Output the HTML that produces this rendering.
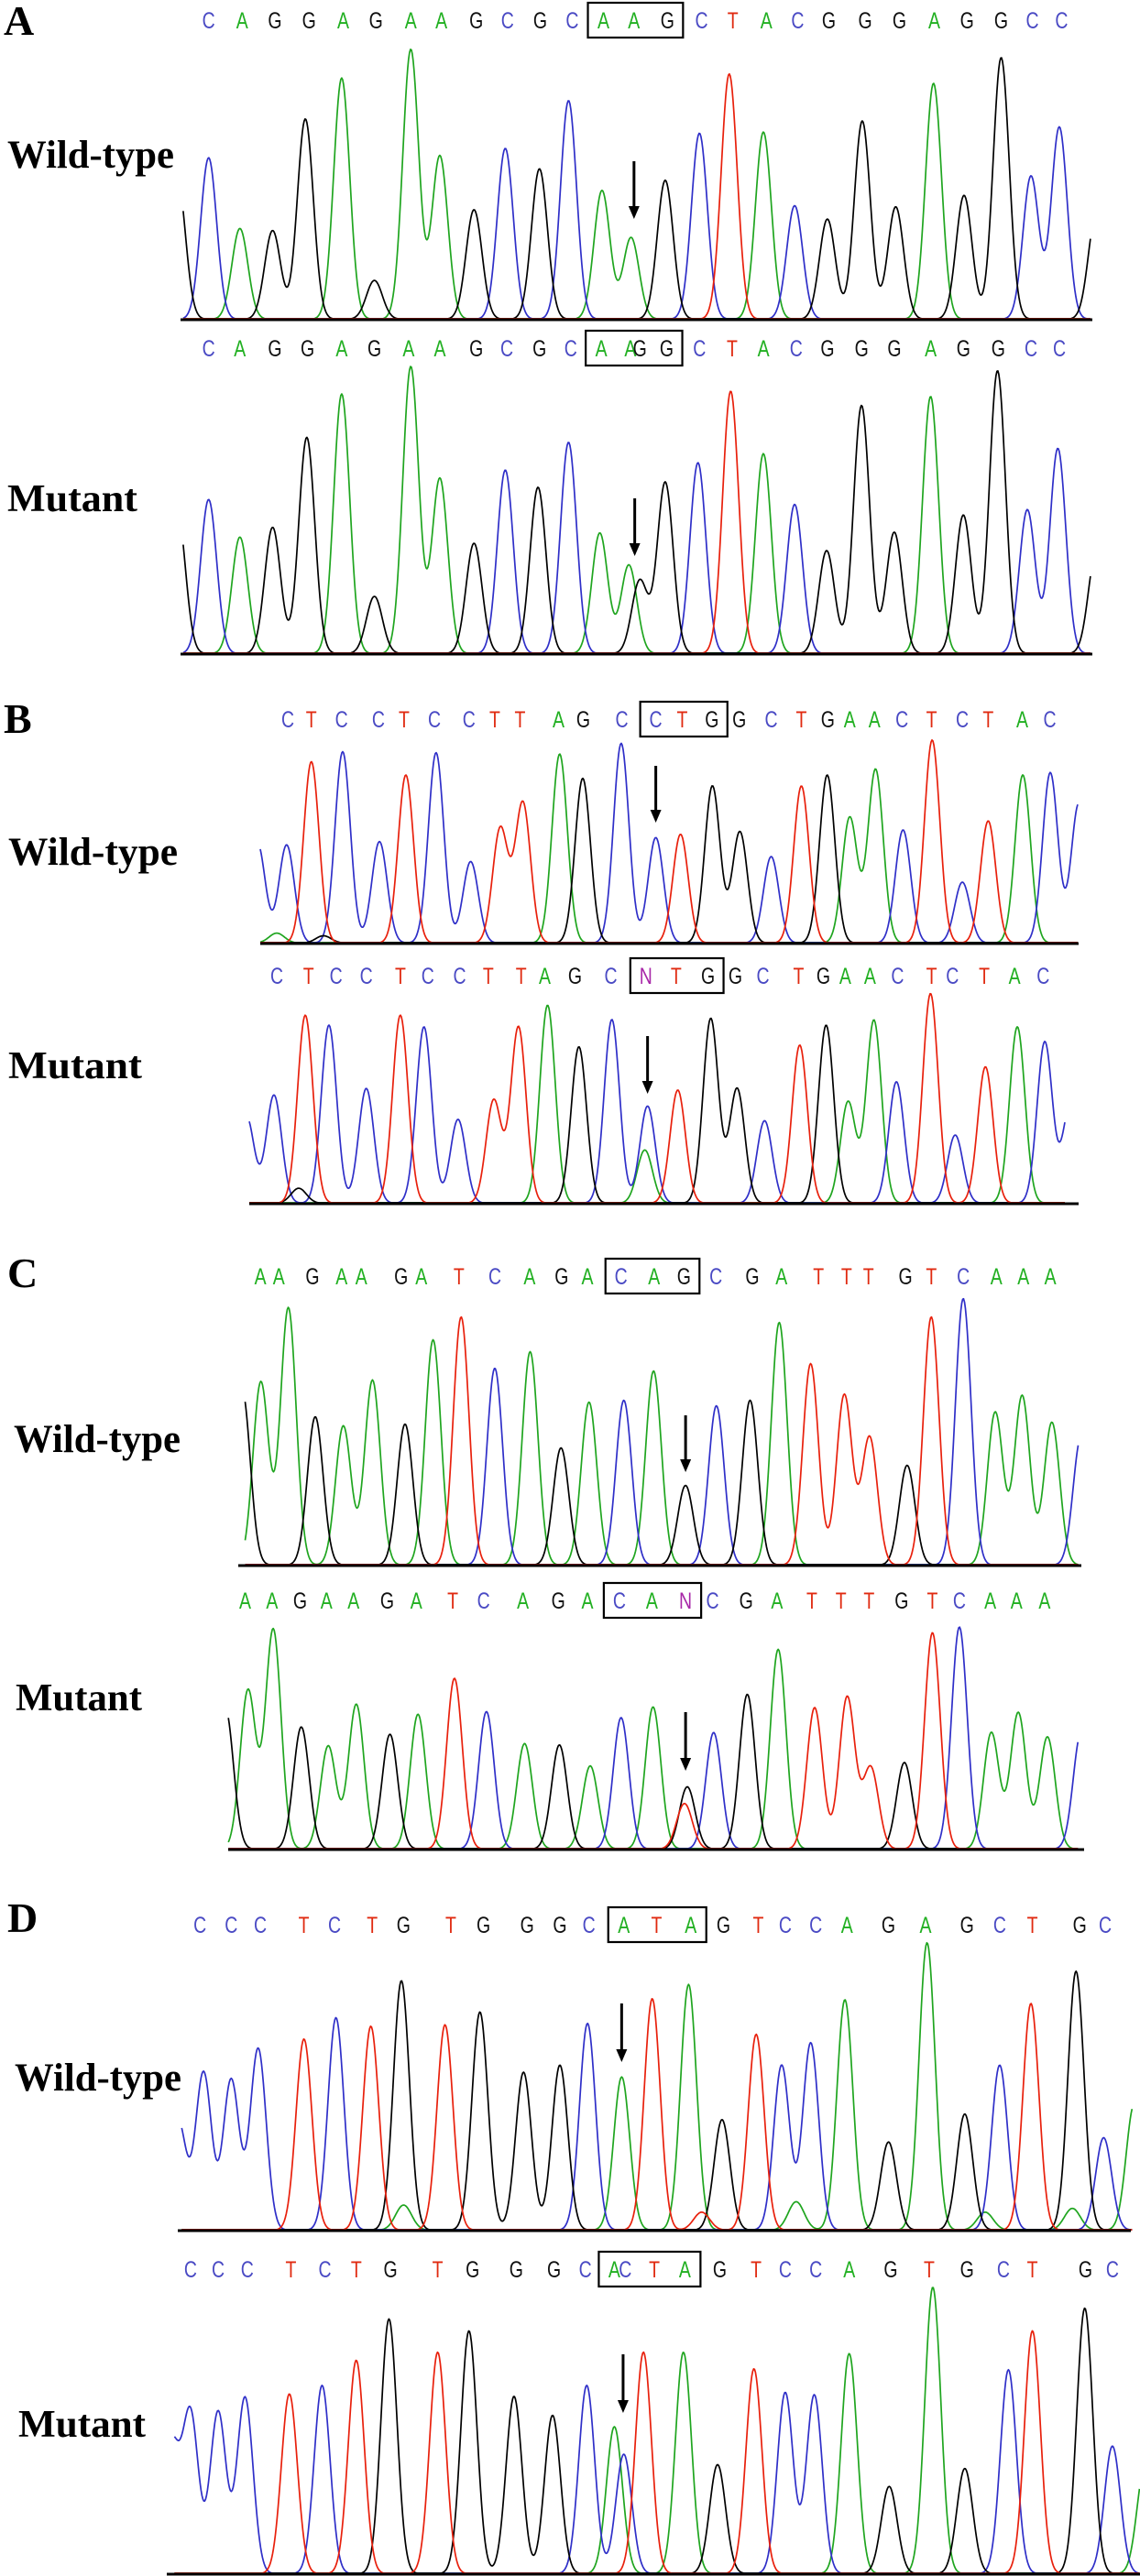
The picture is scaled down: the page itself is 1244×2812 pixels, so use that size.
<!DOCTYPE html>
<html><head><meta charset="utf-8"><style>
html,body{margin:0;padding:0;background:#fff;}
svg{display:block;}
.lbl{font-family:"Liberation Serif",serif;font-weight:bold;fill:#000;}
.seq{font-family:"Liberation Sans Narrow","Liberation Sans",sans-serif;font-size:25px;}
</style></head><body>
<svg id="fig" xmlns="http://www.w3.org/2000/svg" width="1244" height="2812" viewBox="0 0 1244 2812">
<rect width="1244" height="2812" fill="#fff"/>
<text class="lbl" x="4" y="38" font-size="46">A</text>
<text class="lbl" x="4" y="800" font-size="46">B</text>
<text class="lbl" x="8" y="1405" font-size="46">C</text>
<text class="lbl" x="8" y="2109" font-size="46">D</text>
<text class="lbl" x="8" y="183" font-size="43" textLength="182" lengthAdjust="spacingAndGlyphs">Wild-type</text>
<text class="lbl" x="8" y="558" font-size="42" textLength="142" lengthAdjust="spacingAndGlyphs">Mutant</text>
<text class="lbl" x="9" y="944" font-size="43" textLength="185" lengthAdjust="spacingAndGlyphs">Wild-type</text>
<text class="lbl" x="9" y="1177" font-size="42" textLength="146" lengthAdjust="spacingAndGlyphs">Mutant</text>
<text class="lbl" x="15" y="1585" font-size="43" textLength="182" lengthAdjust="spacingAndGlyphs">Wild-type</text>
<text class="lbl" x="17" y="1867" font-size="42" textLength="138" lengthAdjust="spacingAndGlyphs">Mutant</text>
<text class="lbl" x="16" y="2282" font-size="43" textLength="182" lengthAdjust="spacingAndGlyphs">Wild-type</text>
<text class="lbl" x="20" y="2660" font-size="42" textLength="139" lengthAdjust="spacingAndGlyphs">Mutant</text>
</svg>
<script>
// ---- Panel A wild-type ----
const aWtScan=[244,287,330,375,420,470,515,565,605,652,695,742,782,828,868,915,962,1003,1050,1093,1138,1186,1232,1284,1326,1377,1418,1457,1508];
const aWtH=[345,395,222,217,490,590,95,660,400,268,418,368,535,315,200,340,455,600,458,278,245,485,275,577,303,640,350,470,260];
const aWtB=["G","C","A","G","G","A","G","A","A","G","C","G","C","A","A","G","C","T","A","C","G","G","G","A","G","G","C","C","G"];
const aWtSeq="CAGGAGAAGCGCAAGCTACGGGAGGCC";
const aWtSeqScan=[287,333,378,425,472,517,565,607,655,698,743,787,830,872,918,965,1008,1054,1097,1140,1190,1237,1285,1330,1377,1420,1460];
// ---- Panel A mutant ----
const aMuScan=[244,287,330,375,422,470,515,565,605,652,695,740,782,825,865,880,915,960,1005,1050,1093,1137,1185,1230,1280,1325,1372,1413,1455,1508];
const aMuH=[347,377,285,309,529,635,140,702,429,270,449,407,517,295,217,179,419,467,642,489,365,252,607,297,629,339,692,352,502,250];
const aMuB=["G","C","A","G","G","A","G","A","A","G","C","G","C","A","A","G","G","C","T","A","C","G","G","G","A","G","G","C","C","G"];
const aMuSeq="CAGGAGAAGCGCAAGGCTACGGGAGGCC";
const aMuSeqScan=[287,330,378,423,470,515,562,605,655,697,742,785,827,867,880,917,962,1007,1050,1095,1138,1185,1230,1280,1325,1373,1418,1457];
// ---- Panel B wild-type ----
const bWtScan=[35,70,88,133,155,190,257,305,360,423,477,518,585,627,697,760,805,863,913,970,1025,1072,1113,1160,1210,1263,1318,1365,1428,1478,1530];
const bWtH=[300,30,295,545,22,575,305,505,572,245,345,422,568,495,600,317,327,472,335,260,472,505,378,522,340,610,183,367,505,512,420];
const bWtB=["C","A","C","T","G","C","C","T","C","C","T","T","A","G","C","C","T","G","G","C","T","G","A","A","C","T","C","T","A","C","C"];
const bWtSeq="CTCCTCCTTAGCCTGGCTGAACTCTAC";
const bWtSeqScan=[90,133,188,255,302,357,420,467,513,583,628,698,760,808,862,912,970,1025,1073,1113,1158,1208,1262,1318,1365,1427,1477];
// ---- Panel B mutant ----
const bMuScan=[15,65,110,122,165,233,295,338,400,465,510,563,620,680,745,740,800,860,908,958,1022,1070,1110,1157,1198,1260,1305,1360,1418,1468,1515];
const bMuH=[260,325,45,565,535,345,565,530,252,310,530,595,470,552,292,160,340,555,345,248,475,535,305,550,365,630,205,410,530,485,300];
const bMuB=["C","C","G","T","C","C","T","C","C","T","T","A","G","C","C","A","T","G","G","C","T","G","A","A","C","T","C","T","A","C","C"];
const bMuSeq="CTCCTCCTTAGCNTGGCTGAACTCTAC";
const bMuSeqScan=[70,128,178,233,295,345,403,455,515,558,613,678,742,797,855,905,955,1020,1065,1105,1150,1200,1262,1300,1358,1413,1465];
// ---- Panel C wild-type ----
const cWtScan=[40,73,122,170,220,272,330,380,430,490,553,608,658,720,773,830,885,945,997,1053,1113,1158,1225,1268,1325,1382,1430,1483,1535];
const cWtH=[190,200,281,162,152,202,154,246,271,215,233,128,178,180,212,87,174,180,265,220,186,140,109,271,291,167,185,156,140];
const cWtB=["G","A","A","G","A","A","G","A","T","C","A","G","A","C","A","G","C","G","A","T","T","T","G","T","C","A","A","A","C"];
const cWtSeq="AAGAAGATCAGACAGCGATTTGTCAAA";
const cWtSeqScan=[72,105,165,217,252,323,359,426,490,552,609,655,715,774,827,884,949,1001,1067,1117,1156,1222,1268,1325,1384,1432,1480];
// ---- Panel C mutant ----
const cMuScan=[10,50,95,145,193,243,303,353,418,475,543,605,660,715,772,833,828,880,940,995,1060,1118,1160,1220,1270,1318,1375,1423,1475,1535];
const cMuH=[420,477,660,367,310,435,345,405,513,413,317,313,250,395,427,187,137,350,465,600,425,457,245,260,650,667,350,410,337,350];
const cMuB=["G","A","A","G","A","A","G","A","T","C","A","G","A","C","A","G","T","C","G","A","T","T","T","G","T","C","A","A","A","C"];
const cMuSeq="AAGAAGATCAGACANCGATTTGTCAAA";
const cMuSeqScan=[45,93,143,190,238,298,350,415,470,540,603,655,712,770,830,878,938,993,1055,1107,1157,1215,1270,1318,1373,1420,1470];
// ---- Panel D wild-type ----
const dWtScan=[245,280,318,355,418,462,510,552,555,612,660,720,770,808,855,897,947,965,993,1040,1075,1095,1115,1162,1222,1275,1327,1355,1375,1418,1475,1480,1518,1560];
const dWtH=[230,333,318,383,403,448,430,526,53,433,460,333,348,436,323,488,518,38,233,413,348,60,395,486,186,606,245,38,348,478,46,546,195,265];
const dWtB=["C","C","C","C","T","C","T","G","A","T","G","G","G","C","A","T","A","T","G","T","C","A","C","A","G","A","G","A","C","T","A","G","C","A"];
const dWtSeq="CCCTCTGTGGGCATAGTCCAGAGCTGC";
const dWtSeqScan=[275,318,358,418,460,512,555,620,665,725,770,810,858,903,950,995,1043,1080,1122,1165,1222,1273,1330,1375,1420,1485,1520];
// ---- Panel D mutant ----
const dMuScan=[235,262,300,337,398,443,490,535,602,645,707,760,807,845,858,885,940,987,1037,1080,1120,1168,1223,1283,1327,1387,1420,1492,1530,1575];
const dMuH=[270,337,342,372,379,397,450,537,467,512,374,334,397,310,252,467,467,230,432,382,377,464,184,604,222,430,512,560,269,230];
const dMuB=["C","C","C","C","T","C","T","G","T","G","G","G","C","A","C","T","A","G","T","C","C","A","G","A","G","C","T","G","C","A"];
const dMuSeq="CCCTCTGTGGGCACTAGTCCAGTGCTGC";
const dMuSeqScan=[262,300,340,400,447,490,537,602,650,710,762,805,845,860,900,942,990,1040,1080,1122,1168,1225,1278,1330,1380,1420,1493,1530];

const COL={A:"#1fa51f",C:"#2f2fc8",G:"#000000",T:"#e8200c",N:"#b02cb0"};
const SEQCOL={A:"#22b022",C:"#4a4ac4",G:"#111111",T:"#e02a10",N:"#a828a8"};
const NS="http://www.w3.org/2000/svg";
const svg=document.getElementById("fig");
function mk(tag,attrs){const e=document.createElementNS(NS,tag);for(const k in attrs)e.setAttribute(k,attrs[k]);svg.appendChild(e);return e;}

const traces=[
 {id:"a-wild-type",scan:aWtScan,h:aWtH,b:aWtB,seq:aWtSeq,seqScan:aWtSeqScan,box:[12,14],x0:0,kx:0.7934,base:348,ky:0.4464,sig:11,s0:252,s1:1500,bx0:197,bx1:1192,seqY:22,arrow:[872,176,239]},
 {id:"a-mutant",scan:aMuScan,h:aMuH,b:aMuB,seq:aMuSeq,seqScan:aMuSeqScan,box:[12,15],x0:0,kx:0.7934,base:713,ky:0.4464,sig:11,s0:252,s1:1500,bx0:197,bx1:1192,seqY:380,arrow:[873,544,607]},
 {id:"b-wild-type",scan:bWtScan,h:bWtH,b:bWtB,seq:bWtSeq,seqScan:bWtSeqScan,box:[12,14],x0:260,kx:0.5995,base:1029,ky:0.3635,sig:14,s0:40,s1:1528,bx0:284,bx1:1177,seqY:785,arrow:[760,836,898]},
 {id:"b-mutant",scan:bMuScan,h:bMuH,b:bMuB,seq:bMuSeq,seqScan:bMuSeqScan,box:[12,14],x0:260,kx:0.5995,base:1313,ky:0.3635,sig:14,s0:20,s1:1505,bx0:272,bx1:1177,seqY:1065,arrow:[745,1131,1194]},
 {id:"c-wild-type",scan:cWtScan,h:cWtH,b:cWtB,seq:cWtSeq,seqScan:cWtSeqScan,box:[12,14],x0:240,kx:0.6122,base:1708,ky:1,sig:14,s0:45,s1:1530,bx0:260,bx1:1180,seqY:1393,arrow:[830,1545,1607]},
 {id:"c-mutant",scan:cMuScan,h:cMuH,b:cMuB,seq:cMuSeq,seqScan:cMuSeqScan,box:[12,14],x0:240,kx:0.6122,base:2018,ky:0.3635,sig:14,s0:15,s1:1530,bx0:249,bx1:1183,seqY:1747,arrow:[830,1869,1933]},
 {id:"d-wild-type",scan:dWtScan,h:dWtH,b:dWtB,seq:dWtSeq,seqScan:dWtSeqScan,box:[12,14],x0:0,kx:0.7934,base:2434,ky:0.5179,sig:11,s0:250,s1:1558,bx0:194,bx1:1234,seqY:2101,arrow:[855,2187,2251]},
 {id:"d-mutant",scan:dMuScan,h:dMuH,b:dMuB,seq:dMuSeq,seqScan:dMuSeqScan,box:[12,15],x0:0,kx:0.7934,base:2809,ky:0.5179,sig:11,s0:240,s1:1568,bx0:182,bx1:1244,seqY:2477,arrow:[857,2570,2634]}
];

traces.forEach(t=>{
  const xs=s=>t.x0+s*t.kx;
  const ys=v=>t.base-v*t.ky;
  ["A","C","G","T"].forEach(c=>{
    let pts=[];
    for(let px=xs(t.s0);px<=xs(t.s1);px+=1){
      const s=(px-t.x0)/t.kx;let v=0;
      for(let i=0;i<t.scan.length;i++){if(t.b[i]!==c)continue;const d=s-t.scan[i];v+=t.h[i]*Math.exp(-d*d/(2*t.sig*t.sig));}
      pts.push(px.toFixed(1)+","+Math.min(t.base,ys(v)+0.5).toFixed(1));
    }
    const pl=mk("polyline",{points:pts.join(" "),fill:"none",stroke:COL[c],"stroke-width":1.7,"stroke-linejoin":"round"});
    
    
  });
  // baseline axis drawn on top of traces
  const ax=mk("line",{x1:t.bx0,x2:t.bx1,y1:t.base+1,y2:t.base+1,stroke:"#000","stroke-width":3});
  
  
  // sequence letters
  for(let i=0;i<t.seq.length;i++){
    const ch=t.seq[i];const x=xs(t.seqScan[i]);
    const tx=mk("text",{class:"seq",x:0,y:0,transform:"translate("+x.toFixed(1)+","+(t.seqY+9)+") scale(0.78,1)","text-anchor":"middle",fill:SEQCOL[ch]});
    tx.textContent=ch;
    
    
  }
  // codon box
  const bxL=xs(t.seqScan[t.box[0]])-17,bxR=xs(t.seqScan[t.box[1]])+17;
  const r=mk("rect",{x:bxL,y:t.seqY-19,width:bxR-bxL,height:38,fill:"none",stroke:"#000","stroke-width":2.2});
  
  
  // arrow
  const axp=xs(t.arrow[0]);
  const l=mk("line",{x1:axp,x2:axp,y1:t.arrow[1],y2:t.arrow[2]-12,stroke:"#000","stroke-width":3});
  
  
  const hd=mk("polygon",{points:(axp-6)+","+(t.arrow[2]-14)+" "+(axp+6)+","+(t.arrow[2]-14)+" "+axp+","+t.arrow[2],fill:"#000"});
  
  
});
</script>
</body></html>
